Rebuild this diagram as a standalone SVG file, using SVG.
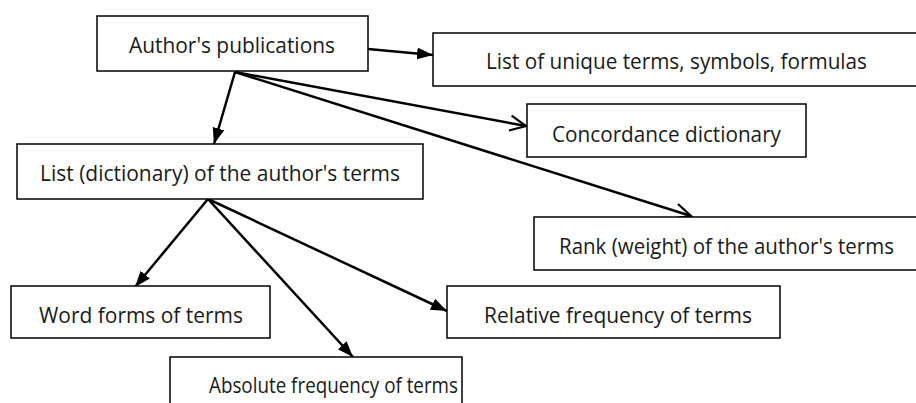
<svg xmlns="http://www.w3.org/2000/svg" width="916" height="403" viewBox="0 0 916 403">
<style>
.box{fill:#fff;stroke:#000;stroke-width:1.5}
.lbl{font-family:"Open Sans","Noto Sans","Liberation Sans",sans-serif;font-size:21px;fill:#1a1a1a;text-anchor:start}
.con{stroke:#000;stroke-width:2.5;fill:none}
</style>
<defs>
<marker id="af" markerUnits="userSpaceOnUse" markerWidth="18" markerHeight="14" refX="16" refY="7" orient="auto"><path d="M0,1 L16,7 L0,13 z" fill="#000"/></marker>
<marker id="ao" markerUnits="userSpaceOnUse" markerWidth="20" markerHeight="18" refX="17" refY="9" orient="auto"><path d="M1,1.5 L17,9 L1,16.5" fill="none" stroke="#000" stroke-width="2.2"/></marker>
</defs>
<rect width="916" height="403" fill="#fff"/>
<g id="connectors">
<line class="con" x1="368" y1="49" x2="433" y2="55" marker-end="url(#af)"/>
<line class="con" x1="235" y1="72" x2="214" y2="144" marker-end="url(#af)"/>
<line class="con" x1="235" y1="72" x2="526" y2="126" marker-end="url(#ao)"/>
<line class="con" x1="235" y1="72" x2="691" y2="216" marker-end="url(#ao)"/>
<line class="con" x1="208" y1="199" x2="135" y2="287" marker-end="url(#af)"/>
<line class="con" x1="208" y1="199" x2="353" y2="357" marker-end="url(#af)"/>
<line class="con" x1="208" y1="199" x2="447" y2="311" marker-end="url(#af)"/>
</g>
<g id="n-publications"><rect class="box" x="97" y="16" width="271" height="55"/><text class="lbl" x="129" y="53" textLength="206" lengthAdjust="spacingAndGlyphs">Author's publications</text></g>
<g id="n-unique"><rect class="box" x="433" y="33" width="490" height="53"/><text class="lbl" x="486" y="69" textLength="381" lengthAdjust="spacingAndGlyphs">List of unique terms, symbols, formulas</text></g>
<g id="n-concordance"><rect class="box" x="527" y="104" width="279" height="53"/><text class="lbl" x="552" y="142" textLength="229" lengthAdjust="spacingAndGlyphs">Concordance dictionary</text></g>
<g id="n-dictionary"><rect class="box" x="17" y="144" width="406" height="55"/><text class="lbl" x="40" y="181" textLength="360" lengthAdjust="spacingAndGlyphs">List (dictionary) of the author's terms</text></g>
<g id="n-rank"><rect class="box" x="534" y="217" width="390" height="53"/><text class="lbl" x="559" y="254" textLength="335" lengthAdjust="spacingAndGlyphs">Rank (weight) of the author's terms</text></g>
<g id="n-wordforms"><rect class="box" x="11" y="286" width="259" height="52"/><text class="lbl" x="39" y="323" textLength="204" lengthAdjust="spacingAndGlyphs">Word forms of terms</text></g>
<g id="n-relative"><rect class="box" x="447" y="286" width="333" height="52"/><text class="lbl" x="484" y="323" textLength="268" lengthAdjust="spacingAndGlyphs">Relative frequency of terms</text></g>
<g id="n-absolute"><rect class="box" x="170" y="357" width="292" height="60"/><text class="lbl" x="209" y="393" textLength="249" lengthAdjust="spacingAndGlyphs">Absolute frequency of terms</text></g>
</svg>
